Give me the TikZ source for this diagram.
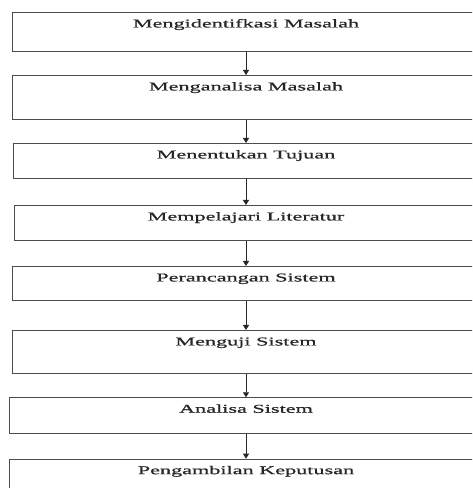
\documentclass[tikz,border=0pt]{standalone}
\usepackage{fontspec}
\setmainfont[FakeStretch=1.85,FakeBold=0.8]{Liberation Serif}
\usetikzlibrary{arrows.meta}

\tikzset{
    stepbox/.style={draw=black!70, line width=0.9pt, anchor=north, inner sep=0pt,
        minimum width=468pt, text height=15pt, font=\fontsize{12}{14}\selectfont, text=black!85},
    flowarrow/.style={draw=black!85, line width=0.8pt, -{Triangle[width=6pt,length=5pt]}}
}

\begin{document}
\begin{tikzpicture}[x=1pt,y=1pt]
    \useasboundingbox (0,0) rectangle (472,488);
    \clip (0,0) rectangle (472,488);

    \node[stepbox, text depth=23.7pt] (identifikasi) at (246,476) {Mengidentifkasi Masalah};
    \node[stepbox, text depth=29pt] (analisa) at (246,413) {Menganalisa Masalah};
    \node[stepbox, text depth=20pt, minimum width=466pt] (tujuan) at (246,345) {Menentukan Tujuan};
    \node[stepbox, text depth=20pt, minimum width=464pt] (literatur) at (246,283) {Mempelajari Literatur};
    \node[stepbox, text depth=19pt] (perancangan) at (246,222) {Perancangan Sistem};
    \node[stepbox, text depth=28pt] (uji) at (246,158) {Menguji Sistem};
    \node[stepbox, text depth=20.4pt, minimum width=474pt] (analisasistem) at (246,90.7) {Analisa Sistem};
    \node[stepbox, text depth=25pt, minimum width=474pt] (keputusan) at (246,29.3) {Pengambilan Keputusan};

    \foreach \a/\b in {identifikasi/analisa, analisa/tujuan, tujuan/literatur, literatur/perancangan,
                       perancangan/uji, uji/analisasistem, analisasistem/keputusan}
    \draw[flowarrow] (\a.south) -- (\b.north);

\end{tikzpicture}
\end{document}
